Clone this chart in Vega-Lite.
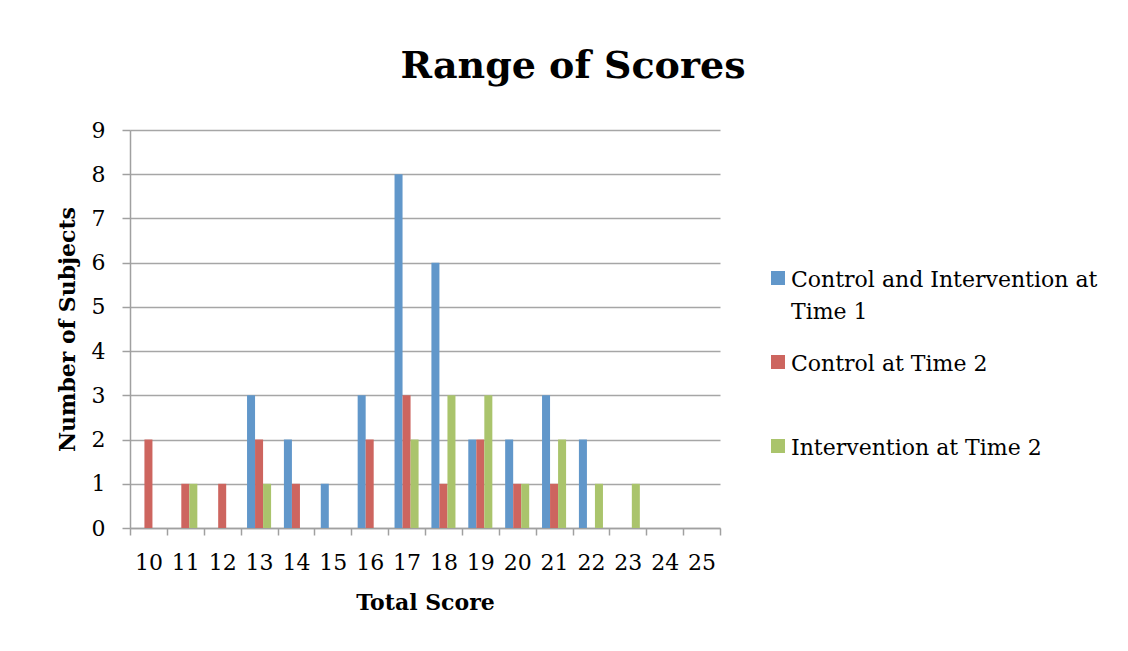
{
  "$schema": "https://vega.github.io/schema/vega-lite/v6.json",
  "width": 590,
  "height": 398,
  "autosize": {"type": "none"},
  "padding": {"left": 130, "top": 130, "right": 408, "bottom": 123},
  "background": "white",
  "title": {
    "text": "Range of Scores",
    "font": "DejaVu Serif",
    "fontSize": 38,
    "fontWeight": "bold",
    "color": "black",
    "anchor": "middle",
    "dx": 148,
    "baseline": "alphabetic",
    "offset": 3
  },
  "data": {
    "values": [
      {"score": "10", "series": "Control at Time 2", "count": 2},
      {"score": "11", "series": "Control at Time 2", "count": 1},
      {"score": "11", "series": "Intervention at Time 2", "count": 1},
      {"score": "12", "series": "Control at Time 2", "count": 1},
      {"score": "13", "series": "Control and Intervention at Time 1", "count": 3},
      {"score": "13", "series": "Control at Time 2", "count": 2},
      {"score": "13", "series": "Intervention at Time 2", "count": 1},
      {"score": "14", "series": "Control and Intervention at Time 1", "count": 2},
      {"score": "14", "series": "Control at Time 2", "count": 1},
      {"score": "15", "series": "Control and Intervention at Time 1", "count": 1},
      {"score": "16", "series": "Control and Intervention at Time 1", "count": 3},
      {"score": "16", "series": "Control at Time 2", "count": 2},
      {"score": "17", "series": "Control and Intervention at Time 1", "count": 8},
      {"score": "17", "series": "Control at Time 2", "count": 3},
      {"score": "17", "series": "Intervention at Time 2", "count": 2},
      {"score": "18", "series": "Control and Intervention at Time 1", "count": 6},
      {"score": "18", "series": "Control at Time 2", "count": 1},
      {"score": "18", "series": "Intervention at Time 2", "count": 3},
      {"score": "19", "series": "Control and Intervention at Time 1", "count": 2},
      {"score": "19", "series": "Control at Time 2", "count": 2},
      {"score": "19", "series": "Intervention at Time 2", "count": 3},
      {"score": "20", "series": "Control and Intervention at Time 1", "count": 2},
      {"score": "20", "series": "Control at Time 2", "count": 1},
      {"score": "20", "series": "Intervention at Time 2", "count": 1},
      {"score": "21", "series": "Control and Intervention at Time 1", "count": 3},
      {"score": "21", "series": "Control at Time 2", "count": 1},
      {"score": "21", "series": "Intervention at Time 2", "count": 2},
      {"score": "22", "series": "Control and Intervention at Time 1", "count": 2},
      {"score": "22", "series": "Intervention at Time 2", "count": 1},
      {"score": "23", "series": "Intervention at Time 2", "count": 1}
    ]
  },
  "mark": {"type": "bar"},
  "encoding": {
    "x": {
      "field": "score",
      "type": "ordinal",
      "scale": {
        "domain": ["10","11","12","13","14","15","16","17","18","19","20","21","22","23","24","25"],
        "paddingInner": 0,
        "paddingOuter": 0
      },
      "axis": {
        "title": "Total Score",
        "labelAngle": 0,
        "tickBand": "extent",
        "tickSize": 7,
        "labelPadding": 17,
        "titlePadding": 19
      }
    },
    "xOffset": {
      "field": "series",
      "type": "nominal",
      "scale": {
        "domain": ["Control and Intervention at Time 1", "Control at Time 2", "Intervention at Time 2"],
        "paddingInner": 0,
        "paddingOuter": 0.8
      }
    },
    "y": {
      "field": "count",
      "type": "quantitative",
      "scale": {"domain": [0, 9], "nice": false},
      "axis": {
        "title": "Number of Subjects",
        "values": [0,1,2,3,4,5,6,7,8,9],
        "grid": true,
        "tickSize": 8,
        "labelPadding": 17,
        "titlePadding": 12
      }
    },
    "color": {
      "field": "series",
      "type": "nominal",
      "scale": {
        "domain": ["Control and Intervention at Time 1", "Control at Time 2", "Intervention at Time 2"],
        "range": ["#6197CA", "#CD655F", "#AAC46C"]
      },
      "legend": {
        "title": null,
        "orient": "none",
        "legendX": 637,
        "legendY": 137,
        "symbolType": "square",
        "symbolSize": 196,
        "symbolStrokeWidth": 0,
        "labelOffset": 2,
        "labelFont": "DejaVu Serif",
        "labelFontSize": 22,
        "labelColor": "black",
        "labelLimit": 500,
        "labelBaseline": "alphabetic",
        "rowPadding": 28,
        "labelExpr": "datum.label == 'Control and Intervention at Time 1' ? ['Control and Intervention at', 'Time 1'] : [datum.label, ' ']",
        "encode": {
          "labels": {"update": {"dy": {"value": 9}, "lineHeight": {"value": 32}}}
        }
      }
    }
  },
  "config": {
    "view": {"stroke": null},
    "axis": {
      "labelFont": "DejaVu Serif",
      "labelFontSize": 22,
      "labelColor": "black",
      "titleFont": "DejaVu Serif",
      "titleFontSize": 22,
      "titleFontWeight": "bold",
      "titleColor": "black",
      "domainColor": "#A0A0A0",
      "domainWidth": 1.5,
      "tickColor": "#A0A0A0",
      "tickWidth": 1.5,
      "gridColor": "#A6A6A6",
      "gridWidth": 1.5
    }
  }
}
